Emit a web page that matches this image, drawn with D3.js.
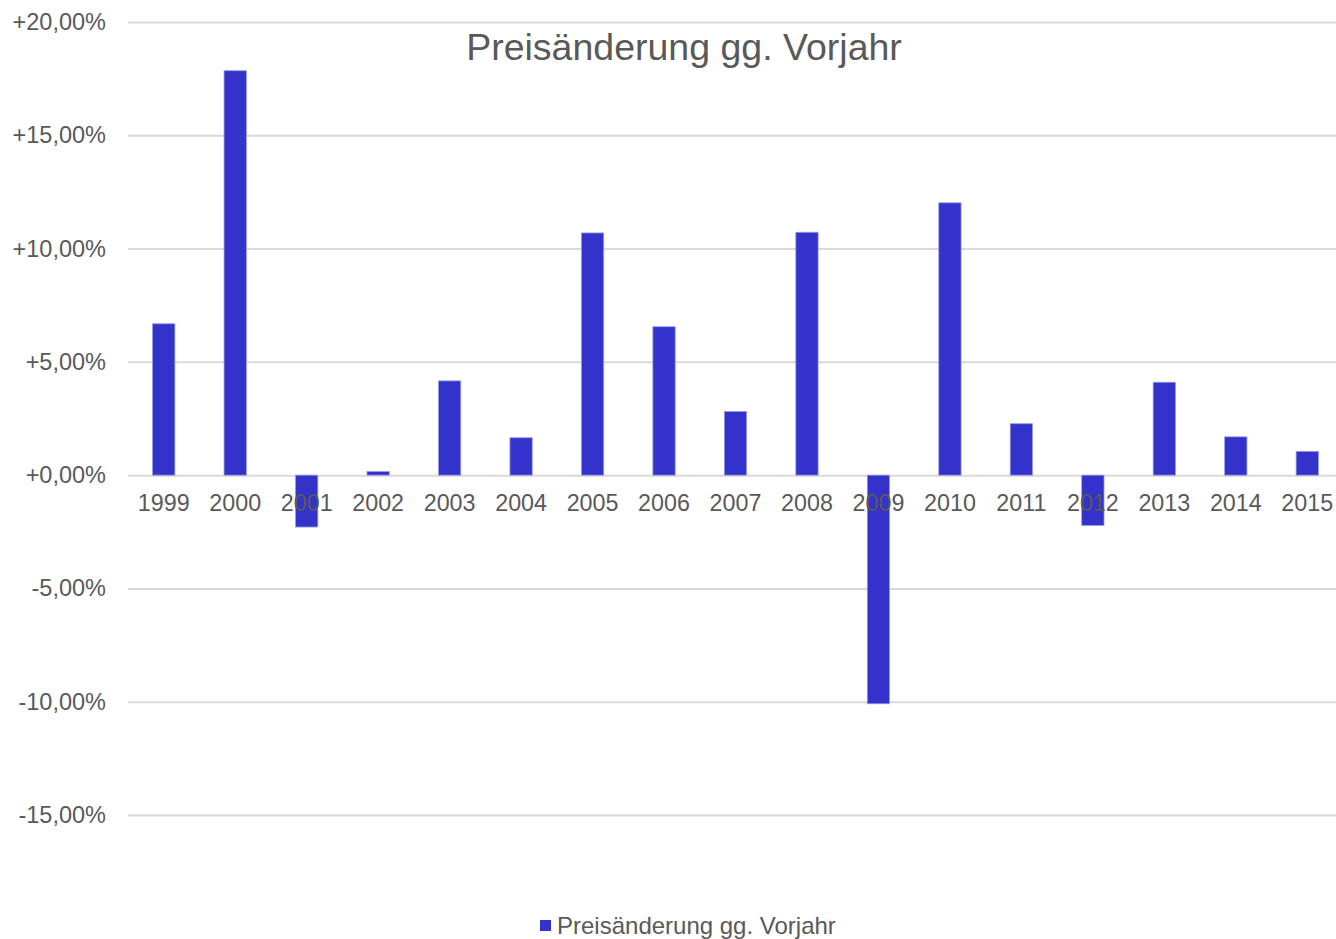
<!DOCTYPE html>
<html>
<head>
<meta charset="utf-8">
<script src="https://cdn.jsdelivr.net/npm/d3@7"></script>
<style>
  body { margin: 0; background: #fff; }
  text { font-family: "Liberation Sans", Arial, sans-serif; fill: #595959; }
</style>
</head>
<body>
<svg width="1336" height="939"></svg>
<script>
const years = ['1999', '2000', '2001', '2002', '2003', '2004', '2005', '2006', '2007',
  '2008', '2009', '2010', '2011', '2012', '2013', '2014', '2015'];
const change = [6.68, 17.85, -2.29, 0.16, 4.16, 1.65, 10.69, 6.55, 2.81,
  10.72, -10.09, 12.02, 2.27, -2.22, 4.10, 1.69, 1.05];
const yTicks = [-15, -10, -5, 0, 5, 10, 15, 20];
const seriesName = 'Preisänderung gg. Vorjahr';

const svg = d3.select('svg');
const width = +svg.attr('width');

const x = d3.scaleBand()
  .domain(years)
  .range([128, 1343])
  .paddingInner(0.688)
  .paddingOuter(0.344);

const y = d3.scaleLinear()
  .domain([-15, 20])
  .range([815, 22]);

const de = d3.formatLocale({ decimal: ',', thousands: '.', grouping: [3], currency: ['', ' €'], minus: '-' });
const fmt = v => de.format('+.2f')(v) + '%';

// gridlines + y labels
const yAxis = svg.append('g')
  .attr('transform', 'translate(128,0)')
  .call(d3.axisLeft(y).tickValues(yTicks).tickFormat(fmt).tickSize(-(width - 128)).tickPadding(22));
yAxis.select('.domain').remove();
yAxis.selectAll('line').attr('stroke', '#d9d9d9').attr('stroke-width', 2);
yAxis.selectAll('text')
  .attr('font-size', 23.5)
  .attr('fill', '#595959')
  .style('font-family', '"Liberation Sans", Arial, sans-serif');

// bars
svg.append('g')
  .selectAll('rect')
  .data(change)
  .join('rect')
  .attr('x', (d, i) => x(years[i]))
  .attr('width', x.bandwidth())
  .attr('y', d => y(Math.max(0, d)))
  .attr('height', d => Math.abs(y(d) - y(0)))
  .attr('fill', '#3333cc')
  .attr('stroke', '#9999e6')
  .attr('stroke-width', 0.8);

// category labels at zero line
const xAxis = svg.append('g')
  .attr('transform', `translate(0,${y(0)})`)
  .call(d3.axisBottom(x).tickSize(0).tickPadding(19));
xAxis.select('.domain').remove();
xAxis.selectAll('text')
  .attr('font-size', 23.3)
  .attr('fill', '#595959')
  .style('font-family', '"Liberation Sans", Arial, sans-serif');

// title
svg.append('text')
  .attr('x', 684)
  .attr('y', 60)
  .attr('text-anchor', 'middle')
  .attr('font-size', 37.5)
  .text(seriesName);

// legend
const legend = svg.append('g').attr('transform', 'translate(540,920)');
legend.append('rect')
  .attr('width', 11)
  .attr('height', 11)
  .attr('fill', '#3333cc');
legend.append('text')
  .attr('x', 17)
  .attr('y', 14)
  .attr('font-size', 24)
  .text(seriesName);
</script>
</body>
</html>
